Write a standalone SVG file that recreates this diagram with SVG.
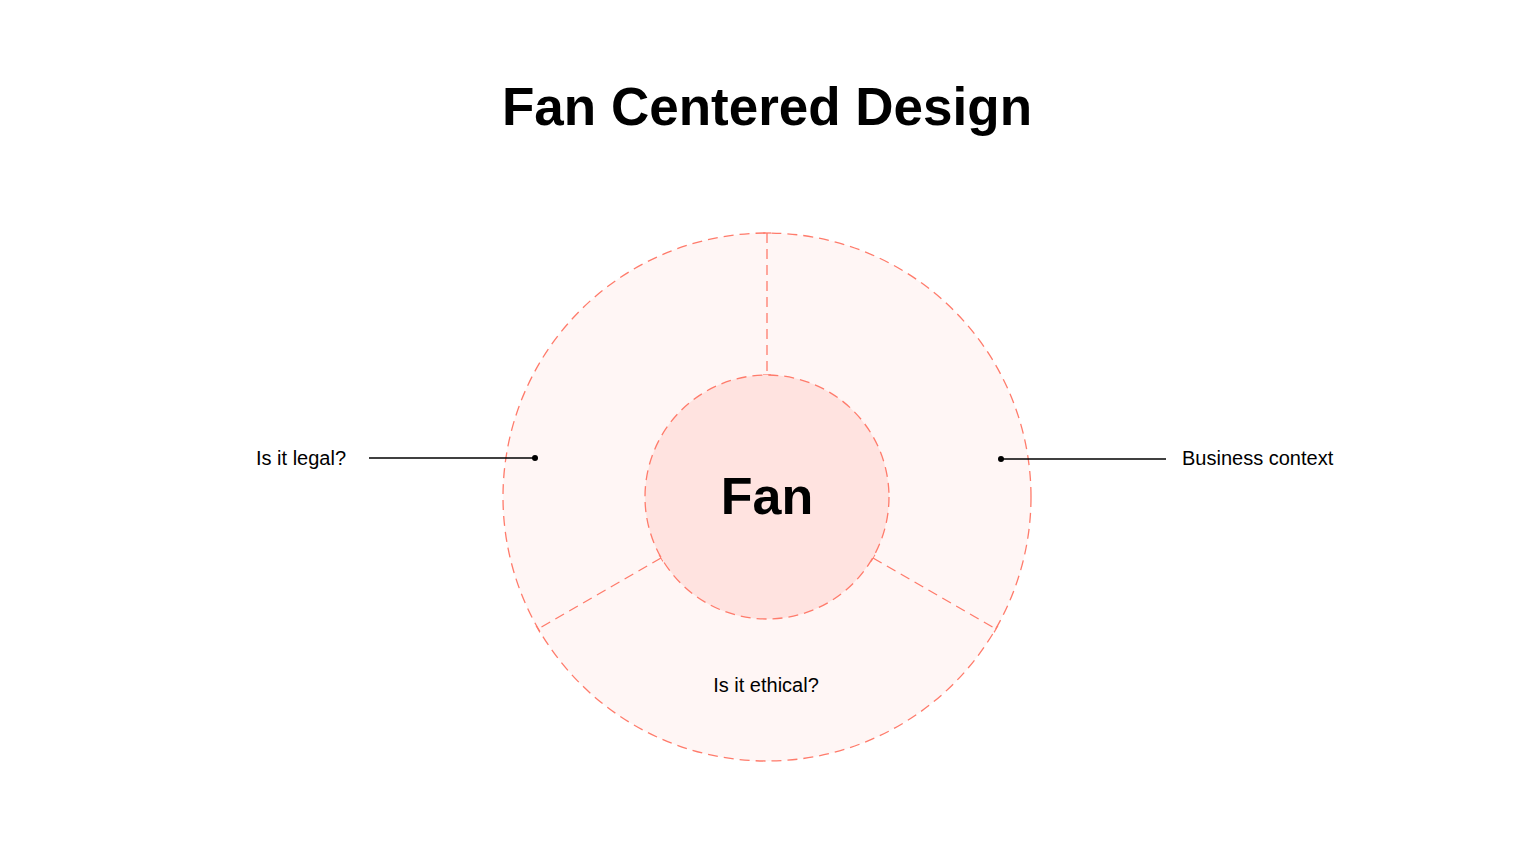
<svg xmlns="http://www.w3.org/2000/svg" width="1536" height="864" viewBox="0 0 1536 864">
<style>
.dash{stroke:#FF7B6B;stroke-width:1.3;stroke-dasharray:10 6;fill:none}
.lbl{font-family:"Liberation Sans",Arial,sans-serif;font-size:20px;fill:#000}
.lead{stroke:#000;stroke-width:1.3}
</style>
<defs>
<marker id="dot" viewBox="0 0 10 10" refX="5" refY="5" markerWidth="6" markerHeight="6" markerUnits="userSpaceOnUse"><circle cx="5" cy="5" r="5" fill="#000"/></marker>
<marker id="tick" viewBox="0 0 10 10" refX="5" refY="5" markerWidth="8" markerHeight="8" markerUnits="userSpaceOnUse" orient="auto"><line x1="5" y1="0" x2="5" y2="10" stroke="#FF7B6B" stroke-width="1.6"/></marker>
</defs>
<rect width="1536" height="864" fill="#fff"/>
<text x="767" y="125" text-anchor="middle" font-family="Liberation Sans,Arial,sans-serif" font-weight="bold" font-size="53">Fan Centered Design</text>
<g id="outer">
<circle cx="767" cy="497" r="264" fill="#FFF6F5" class="dash" style="fill:#FFF6F5"/>
</g>
<g id="dividers">
<line x1="767" y1="233" x2="767" y2="375" class="dash" marker-start="url(#tick)" marker-end="url(#tick)"/>
<line x1="661" y1="558" x2="538" y2="629" class="dash" marker-start="url(#tick)" marker-end="url(#tick)"/>
<line x1="873" y1="558" x2="996" y2="629" class="dash" marker-start="url(#tick)" marker-end="url(#tick)"/>
</g>
<g id="inner">
<circle cx="767" cy="497" r="122" class="dash" style="fill:#FFE3E0"/>
<text x="767" y="514" text-anchor="middle" font-family="Liberation Sans,Arial,sans-serif" font-weight="bold" font-size="52">Fan</text>
</g>
<g id="legal">
<text x="256" y="465" class="lbl">Is it legal?</text>
</g>
<g id="business">
<text x="1182" y="465" class="lbl">Business context</text>
</g>
<g id="ethical">
<text x="766" y="692" text-anchor="middle" class="lbl">Is it ethical?</text>
</g>
<g id="connectors">
<line x1="369" y1="458" x2="535" y2="458" class="lead" marker-end="url(#dot)"/>
<line x1="1166" y1="459" x2="1001" y2="459" class="lead" marker-end="url(#dot)"/>
</g>
</svg>
